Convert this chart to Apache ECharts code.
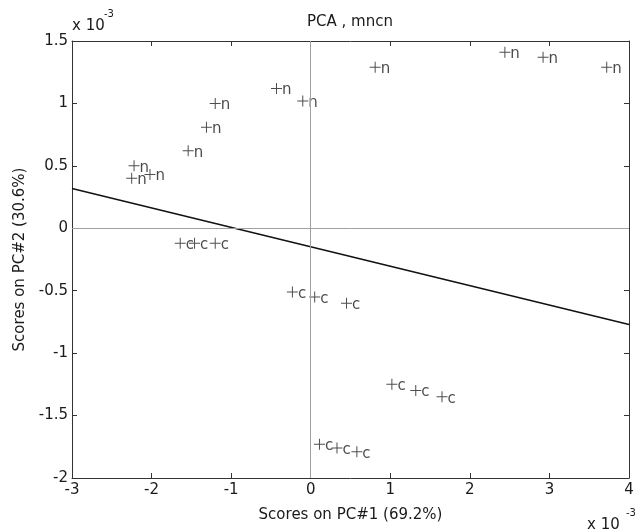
<!DOCTYPE html>
<html>
<head>
<meta charset="utf-8">
<script src="https://cdn.jsdelivr.net/npm/echarts@6/dist/echarts.min.js"></script>
<style>html,body{margin:0;padding:0;background:#fff;}#c{width:642px;height:529px;}</style>
</head>
<body>
<div id="c"></div>
<script>
// Scores (units of 1e-3)
const nX = [-0.43, -0.10, -1.20, -1.31, -1.54, -2.22, -2.25, -2.02, 0.81, 2.44, 2.92, 3.72];
const nY = [1.12, 1.02, 1.00, 0.81, 0.62, 0.50, 0.40, 0.43, 1.29, 1.41, 1.37, 1.29];
const cX = [-1.64, -1.46, -1.20, -0.23, 0.05, 0.45, 1.02, 1.32, 1.65, 0.11, 0.33, 0.58];
const cY = [-0.12, -0.12, -0.12, -0.51, -0.55, -0.60, -1.25, -1.30, -1.35, -1.73, -1.76, -1.79];
const lineX = [-3, 4];
const lineY = [0.318, -0.77];
const xRange = [-3, 4], xStep = 1;
const yRange = [-2, 1.5], yStep = 0.5;
const titleText = 'PCA , mncn';
const xName = 'Scores on PC#1 (69.2%)';
const yName = 'Scores on PC#2 (30.6%)';

const FONT = 'DejaVu Sans';
const TXT = '#1a1a1a';
const plus = 'path://M0,5h11v1h-11z M5,0h1v11h-1z';

function pts(xs, ys) { return xs.map((x, i) => [x, ys[i]]); }

function baseAxis(extra) {
  return Object.assign({
    type: 'value',
    axisLine: { show: true, onZero: false, lineStyle: { color: '#333', width: 1 } },
    axisTick: { show: true, inside: true, length: 5, lineStyle: { color: '#333' } },
    splitLine: { show: false }
  }, extra);
}

const chart = echarts.init(document.getElementById('c'), null, { renderer: 'canvas' });
const labelStyle = (name) => ({
  show: true, position: 'right', distance: 0, offset: [0, 2],
  formatter: name, fontFamily: FONT, fontSize: 15, color: TXT
});
chart.setOption({
  backgroundColor: '#fff',
  animation: false,
  grid: { left: 72, right: 13, top: 41, bottom: 51 },
  xAxis: [
    baseAxis({ min: xRange[0], max: xRange[1], interval: xStep, position: 'bottom',
      axisLabel: { fontFamily: FONT, fontSize: 15, color: TXT, margin: 5 },
      name: xName, nameLocation: 'middle', nameGap: 30,
      nameTextStyle: { fontFamily: FONT, fontSize: 15, color: TXT } }),
    baseAxis({ min: xRange[0], max: xRange[1], interval: xStep, position: 'top',
      axisLabel: { show: false } })
  ],
  yAxis: [
    baseAxis({ min: yRange[0], max: yRange[1], interval: yStep, position: 'left',
      axisLabel: { fontFamily: FONT, fontSize: 15, color: TXT, margin: 4 },
      name: yName, nameLocation: 'middle', nameGap: 43, nameRotate: 90,
      nameTextStyle: { fontFamily: FONT, fontSize: 15, color: TXT } }),
    baseAxis({ min: yRange[0], max: yRange[1], interval: yStep, position: 'right',
      axisLabel: { show: false } })
  ],
  title: {
    text: titleText, left: 302, top: 10,
    textStyle: { fontFamily: FONT, fontSize: 15, fontWeight: 'normal', color: TXT }
  },
  graphic: [
    { type: 'text', left: 72, top: 19, style: { text: 'x 10', fontFamily: FONT, fontSize: 15, fill: TXT } },
    { type: 'text', left: 104, top: 9, style: { text: '-3', fontFamily: FONT, fontSize: 10, fill: TXT } },
    { type: 'text', left: 587, top: 518, style: { text: 'x 10', fontFamily: FONT, fontSize: 15, fill: TXT } },
    { type: 'text', left: 626, top: 508, style: { text: '-3', fontFamily: FONT, fontSize: 10, fill: TXT } }
  ],
  series: [
    {
      type: 'line', data: pts(lineX, lineY), symbol: 'none', silent: true,
      lineStyle: { color: '#111', width: 1.5 },
      markLine: {
        silent: true, symbol: 'none', label: { show: false },
        lineStyle: { color: '#a0a0a0', width: 1, type: 'solid' },
        data: [{ xAxis: 0 }, { yAxis: 0 }]
      },
      z: 1
    },
    {
      name: 'n', type: 'scatter', data: pts(nX, nY), symbol: plus, symbolSize: 11,
      itemStyle: { color: '#222' }, label: labelStyle('n'), z: 3
    },
    {
      name: 'c', type: 'scatter', data: pts(cX, cY), symbol: plus, symbolSize: 11,
      itemStyle: { color: '#222' }, label: labelStyle('c'), z: 3
    }
  ]
});
</script>
</body>
</html>
